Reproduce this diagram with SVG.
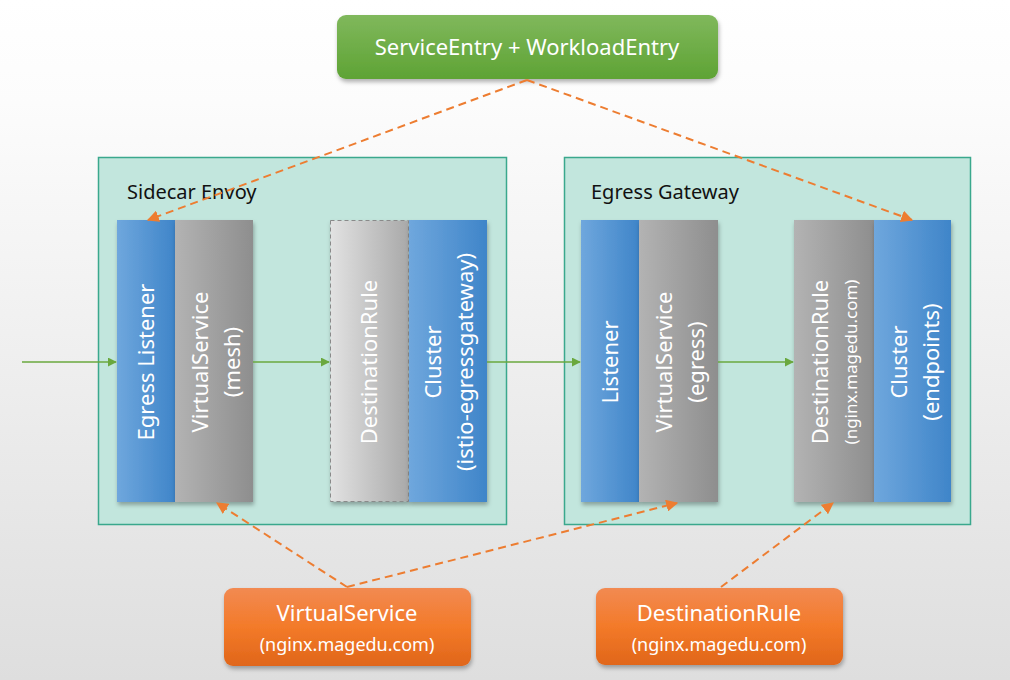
<svg xmlns="http://www.w3.org/2000/svg" width="1010" height="680" viewBox="0 0 1010 680">
<defs>
<linearGradient id="bg" x1="0" y1="0" x2="0" y2="1"><stop offset="0" stop-color="#ffffff"/><stop offset="0.15" stop-color="#fcfcfc"/><stop offset="1" stop-color="#dedede"/></linearGradient>
<linearGradient id="blue" x1="0" y1="0" x2="1" y2="0"><stop offset="0" stop-color="#6fa7dd"/><stop offset="1" stop-color="#3f85c9"/></linearGradient>
<linearGradient id="gray" x1="0" y1="0" x2="1" y2="0"><stop offset="0" stop-color="#b3b3b3"/><stop offset="1" stop-color="#8e8e8e"/></linearGradient>
<linearGradient id="lgray" x1="0" y1="0" x2="1" y2="0"><stop offset="0" stop-color="#e2e2e2"/><stop offset="1" stop-color="#a9a9a9"/></linearGradient>
<linearGradient id="green" x1="0" y1="0" x2="0" y2="1"><stop offset="0" stop-color="#80b85c"/><stop offset="1" stop-color="#5ea334"/></linearGradient>
<linearGradient id="orange" x1="0" y1="0" x2="0" y2="1"><stop offset="0" stop-color="#f28a52"/><stop offset="0.5" stop-color="#f37a29"/><stop offset="1" stop-color="#e0661a"/></linearGradient>
<filter id="sh" x="-10%" y="-10%" width="130%" height="130%"><feDropShadow dx="1" dy="3" stdDeviation="2" flood-color="#000" flood-opacity="0.3"/></filter>
<marker id="ga" viewBox="0 0 10 10" refX="9" refY="5" markerWidth="9" markerHeight="9" markerUnits="userSpaceOnUse" orient="auto"><path d="M0,0 L10,5 L0,10 z" fill="#6aa83e"/></marker>
<marker id="oa" viewBox="0 0 10 10" refX="9" refY="5" markerWidth="12" markerHeight="12" markerUnits="userSpaceOnUse" orient="auto"><path d="M0,0 L10,5 L0,10 z" fill="#ed7d31"/></marker>
</defs>
<style>
text{font-family:"Noto Sans","Open Sans","Liberation Sans",sans-serif;}
.cont{fill:#c2e6dd;stroke:#3aa88d;stroke-width:1.5;}
.title{font-size:20px;fill:#111;}
.col{font-size:22px;fill:#fff;text-anchor:middle;}
.sub{font-size:17px;fill:#fff;text-anchor:middle;}
.g{stroke:#6aa83e;stroke-width:1.5;fill:none;marker-end:url(#ga);}
.o{stroke:#ed7d31;stroke-width:2;fill:none;stroke-dasharray:8 5;marker-end:url(#oa);}
.bt{font-size:22px;fill:#fff;text-anchor:middle;}
.bs{font-size:18px;fill:#fff;text-anchor:middle;}
</style>
<rect width="1010" height="680" fill="url(#bg)"/>
<g id="sidecar">
<rect class="cont" x="98.500" y="157.500" width="408" height="367"/>
<text class="title" x="127" y="199">Sidecar Envoy</text>
</g>
<g id="egressgw">
<rect class="cont" x="564.500" y="157.500" width="406" height="367"/>
<text class="title" x="591" y="199">Egress Gateway</text>
</g>
<g id="egress-listener"><rect x="117" y="220" width="58" height="282" fill="url(#blue)" filter="url(#sh)"/><text class="col" transform="translate(154,362) rotate(-90)">Egress Listener</text></g>
<g id="vs-mesh"><rect x="175" y="220" width="78" height="282" fill="url(#gray)" filter="url(#sh)"/><text class="col" transform="translate(208,362) rotate(-90)">VirtualService</text><text class="col" transform="translate(240,362) rotate(-90)">(mesh)</text></g>
<g id="dr-sidecar"><rect x="330.500" y="220.500" width="78" height="281" fill="url(#lgray)" stroke="#8a8a8a" stroke-dasharray="4 3" filter="url(#sh)"/><text class="col" transform="translate(377,362) rotate(-90)">DestinationRule</text></g>
<g id="cluster-egw"><rect x="409" y="220" width="78" height="282" fill="url(#blue)" filter="url(#sh)"/><text class="col" transform="translate(441,362) rotate(-90)">Cluster</text><text class="col" transform="translate(473,362) rotate(-90)">(istio-egressgateway)</text></g>
<g id="listener"><rect x="581" y="220" width="58" height="282" fill="url(#blue)" filter="url(#sh)"/><text class="col" transform="translate(618,362) rotate(-90)">Listener</text></g>
<g id="vs-egress"><rect x="639" y="220" width="79" height="282" fill="url(#gray)" filter="url(#sh)"/><text class="col" transform="translate(672,362) rotate(-90)">VirtualService</text><text class="col" transform="translate(704,362) rotate(-90)">(egress)</text></g>
<g id="dr-egress"><rect x="794" y="220" width="80" height="282" fill="url(#gray)" filter="url(#sh)"/><text class="col" transform="translate(828,362) rotate(-90)">DestinationRule</text><text class="sub" transform="translate(857,362) rotate(-90)">(nginx.magedu.com)</text></g>
<g id="cluster-ep"><rect x="874" y="220" width="77" height="282" fill="url(#blue)" filter="url(#sh)"/><text class="col" transform="translate(907,362) rotate(-90)">Cluster</text><text class="col" transform="translate(939,362) rotate(-90)">(endpoints)</text></g>
<g id="se-we"><rect x="337" y="15" width="381" height="64" rx="9" fill="url(#green)" filter="url(#sh)"/><text class="bt" x="527" y="55">ServiceEntry + WorkloadEntry</text></g>
<g id="vs-nginx"><rect x="224" y="588" width="247" height="78" rx="9" fill="url(#orange)" filter="url(#sh)"/><text class="bt" x="347" y="621">VirtualService</text><text class="bs" x="347" y="651">(nginx.magedu.com)</text></g>
<g id="dr-nginx"><rect x="596" y="588" width="247" height="77" rx="9" fill="url(#orange)" filter="url(#sh)"/><text class="bt" x="719" y="621">DestinationRule</text><text class="bs" x="719" y="651">(nginx.magedu.com)</text></g>
<g id="connectors">
<line class="g" x1="22" y1="362" x2="116" y2="362"/>
<line class="g" x1="253" y1="362" x2="329" y2="362"/>
<line class="g" x1="487" y1="362" x2="580" y2="362"/>
<line class="g" x1="718" y1="362" x2="793" y2="362"/>
<line class="o" x1="527" y1="80" x2="148" y2="220"/>
<line class="o" x1="527" y1="80" x2="912" y2="220"/>
<line class="o" x1="347" y1="587" x2="217" y2="503"/>
<line class="o" x1="347" y1="587" x2="677" y2="503"/>
<line class="o" x1="721" y1="587" x2="833" y2="503"/>
</g>
</svg>
